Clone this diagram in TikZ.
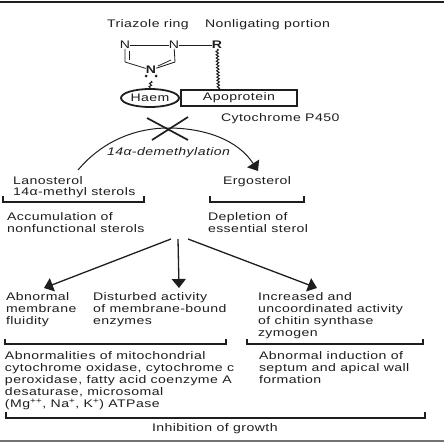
\documentclass[tikz,border=0pt]{standalone}
\usepackage{fontspec}
\setmainfont{Liberation Sans}[LetterSpace=4,FakeStretch=1.28]
\usetikzlibrary{arrows.meta,decorations.pathmorphing,shapes.geometric}
\definecolor{ink}{HTML}{1E1E1E}
\newcommand{\tsize}{\fontsize{11}{12}\selectfont}
\tikzset{
 lbl/.style={anchor=base west,inner sep=0pt,outer sep=0pt,text=ink,font=\tsize},
 atom/.style={anchor=center,inner sep=0pt,text=ink,font=\tsize},
 bond/.style={draw=ink,line width=.8pt},
 brk/.style={draw=ink,line width=1.3pt},
 flow/.style={draw=ink,line width=1.3pt,-{Triangle[length=9pt,width=14pt]}},
 wavy/.style={draw=ink,line width=1pt,decorate,decoration={snake,amplitude=1.2pt,segment length=3.2pt}},
 rule/.style={line width=1.2pt}
}
\begin{document}
\begin{tikzpicture}[x=1pt,y=-1pt]
\useasboundingbox (0,0) rectangle (444,444);
\fill[white] (0,0) rectangle (444,444);
\coordinate (tl) at (0,2); \coordinate (tr) at (444,2);
\coordinate (bl) at (0,441); \coordinate (br) at (444,441);
\draw[rule,draw=ink] (tl) -- (tr);
\draw[rule,draw=black!55] (bl) -- (br);
% headings
\node[lbl] (t1) at (107,28) {Triazole ring};
\node[lbl] (t2) at (205,28) {Nonligating portion};
% ring
\node[atom] (n1) at (125,45) {N};
\node[atom] (n2) at (174,45) {N};
\node[atom,font=\tsize\bfseries] (r) at (217,45) {R};
\node[atom,font=\tsize\bfseries] (n3) at (151,70) {N};
\draw[bond] (n1) -- (n2);
\draw[bond] (n2) -- (r);
\coordinate (a1) at (125,62); \coordinate (a2) at (175,62);
\coordinate (a1i) at (129,60); \coordinate (a2i) at (171,60);
\draw[bond] (n1) -- (a1) -- (n3);
\draw[bond] (n2) -- (a2) -- (n3);
\draw[bond,shorten <=6pt] (129,45) -- (a1i);
\draw[bond] (a2i) -- (158,66);
\fill[ink] (146,76) circle (1.5);
\fill[ink] (156,76) circle (1.5);
% haem and apoprotein
\node[draw=ink,line width=1.8pt,ellipse,minimum width=58pt,minimum height=18pt,inner sep=0pt,text=ink,font=\tsize] (haem) at (150,98) {Haem};
\node[draw=ink,line width=1.8pt,minimum width=116pt,minimum height=16pt,inner sep=0pt,text=ink,font=\tsize] (apo) at (239,98) {Apoprotein};
\coordinate (hs) at (151,81);
\path[wavy] (hs) -- (haem.north);
\path[wavy] (r) -- (218.5,90);
\node[lbl] (cyt) at (221,121) {Cytochrome P450};
% cross and arc
\coordinate (x1) at (147,118); \coordinate (x2) at (188,140);
\coordinate (x3) at (188,117); \coordinate (x4) at (152,140);
\draw[draw=ink,line width=1.7pt] (x1) -- (x2);
\draw[draw=ink,line width=1.7pt] (x3) -- (x4);
\coordinate (as) at (78,170); \coordinate (ae) at (258,171);
\draw[draw=ink,line width=1pt,-{Triangle[length=9pt,width=14pt]}] (as) .. controls (105,138) and (140,128) .. (168,128) .. controls (205,128) and (238,140) .. (ae);
\node[lbl,font=\tsize\itshape] (dem) at (107,155) {14α-demethylation};
% sterols
\node[lbl] (lan) at (13,184) {Lanosterol};
\node[lbl] (met) at (13,195) {14α-methyl sterols};
\node[lbl] (erg) at (223,184) {Ergosterol};
\draw[brk] (3,196) |- (144,202) -- (144,196);
\draw[brk] (210,196) |- (304,202) -- (304,196);
\node[lbl] (acc1) at (7,220) {Accumulation of};
\node[lbl] (acc2) at (7,232) {nonfunctional sterols};
\node[lbl] (dep1) at (208,220) {Depletion of};
\node[lbl] (dep2) at (208,232) {essential sterol};
% arrows
\coordinate (f1) at (171,239); \coordinate (f2) at (178,239); \coordinate (f3) at (188,239);
\coordinate (g1) at (44,288); \coordinate (g2) at (179,288); \coordinate (g3) at (317,288);
\draw[flow] (f1) -- (g1);
\draw[flow] (f2) -- (g2);
\draw[flow] (f3) -- (g3);
% effects
\node[lbl] (c1a) at (6,300) {Abnormal};
\node[lbl] (c1b) at (6,312) {membrane};
\node[lbl] (c1c) at (6,324) {fluidity};
\node[lbl] (c2a) at (93,300) {Disturbed activity};
\node[lbl] (c2b) at (93,312) {of membrane-bound};
\node[lbl] (c2c) at (93,324) {enzymes};
\node[lbl] (c3a) at (258,300) {Increased and};
\node[lbl] (c3b) at (258,312) {uncoordinated activity};
\node[lbl] (c3c) at (258,324) {of chitin synthase};
\node[lbl] (c3d) at (258,336) {zymogen};
\draw[brk] (5,339) |- (226,344) -- (226,339);
\draw[brk] (247,339) |- (423,344) -- (423,339);
% lower
\node[lbl] (d1) at (5,359) {Abnormalities of mitochondrial};
\node[lbl] (d2) at (5,371) {cytochrome oxidase, cytochrome c};
\node[lbl] (d3) at (5,383) {peroxidase, fatty acid coenzyme A};
\node[lbl] (d4) at (5,395) {desaturase, microsomal};
\node[lbl] (d5) at (5,407) {(Mg\textsuperscript{++}, Na\textsuperscript{+}, K\textsuperscript{+}) ATPase};
\node[lbl] (e1) at (259,359) {Abnormal induction of};
\node[lbl] (e2) at (259,371) {septum and apical wall};
\node[lbl] (e3) at (259,383) {formation};
\draw[brk] (6,412) |- (425,418) -- (425,412);
\node[lbl] (inh) at (152,431) {Inhibition of growth};
\end{tikzpicture}
\end{document}
